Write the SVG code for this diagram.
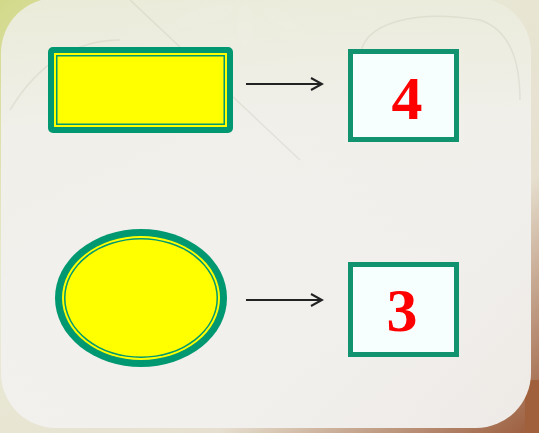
<svg xmlns="http://www.w3.org/2000/svg" width="539" height="433" viewBox="0 0 539 433">
<defs>
<linearGradient id="bg" x1="0" y1="0" x2="1" y2="1">
<stop offset="0" stop-color="#d3d98a"/>
<stop offset="0.35" stop-color="#e9ead6"/>
<stop offset="0.7" stop-color="#e6dfcf"/>
<stop offset="1" stop-color="#9a5a3a"/>
</linearGradient>
<linearGradient id="panel" x1="0" y1="0" x2="0" y2="1">
<stop offset="0" stop-color="#ebecdc"/>
<stop offset="0.3" stop-color="#f1f0ec"/>
<stop offset="1" stop-color="#f2f1ef"/>
</linearGradient>
<marker id="ah" markerWidth="14" markerHeight="14" refX="12" refY="7" orient="auto" markerUnits="userSpaceOnUse">
<path d="M1,1 L12,7 L1,13" fill="none" stroke="#222" stroke-width="2"/>
</marker>
<style>
.g{fill:#009870}
.y{fill:#ffff00}
.box{fill:#f6fffe;stroke:#12936f;stroke-width:5}
.num{font-family:"Liberation Serif",serif;font-weight:bold;font-size:62px;fill:#ff0000;text-anchor:middle}
.arr{stroke:#222;stroke-width:2;fill:none}
</style>
</defs>
<rect width="539" height="433" fill="url(#bg)"/>
<rect x="525" y="380" width="14" height="53" fill="#a0603c"/>
<g opacity="0.6" fill="#ffffff">
<ellipse cx="205" cy="15" rx="30" ry="8" transform="rotate(-15 205 15)"/>
<ellipse cx="245" cy="25" rx="8" ry="22"/>
<ellipse cx="280" cy="18" rx="20" ry="7" transform="rotate(30 280 18)"/>
</g>
<rect x="1" y="-2" width="530" height="430" rx="55" fill="url(#panel)" opacity="0.95"/>
<g opacity="0.25" fill="none" stroke="#b9b9a8" stroke-width="1.5">
<path d="M130,0 L300,160"/>
<path d="M360,60 C360,20 420,10 480,20 C510,30 520,60 520,100"/>
<path d="M10,110 C40,60 80,40 120,40"/>
</g>
<g id="rect-shape">
<rect x="48" y="47" width="185" height="86" rx="5" class="g"/>
<rect x="54" y="53" width="173" height="74" class="y"/>
<rect x="56" y="55" width="169" height="70" class="g"/>
<rect x="57.5" y="56.5" width="166" height="67" class="y"/>
</g>
<g id="ellipse-shape">
<ellipse cx="141" cy="298" rx="86" ry="69" class="g"/>
<ellipse cx="141" cy="298" rx="79" ry="62" class="y"/>
<ellipse cx="141" cy="298" rx="77" ry="60" class="g"/>
<ellipse cx="141" cy="298" rx="75.5" ry="58.5" class="y"/>
</g>
<g id="box4">
<rect x="350.5" y="51.5" width="106" height="88" class="box"/>
<text x="407" y="119" class="num">4</text>
</g>
<g id="box3">
<rect x="350.5" y="264.5" width="106" height="90" class="box"/>
<text x="402" y="331" class="num">3</text>
</g>
<g id="connectors">
<line x1="246" y1="84" x2="322" y2="84" class="arr" marker-end="url(#ah)"/>
<line x1="246" y1="300" x2="322" y2="300" class="arr" marker-end="url(#ah)"/>
</g>
</svg>
